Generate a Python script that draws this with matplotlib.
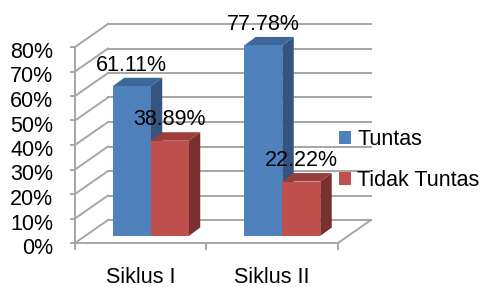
import matplotlib
matplotlib.use("Agg")
import matplotlib.pyplot as plt
from matplotlib.patches import Polygon, Patch
from matplotlib.transforms import ScaledTranslation
import numpy as np

categories = ["Siklus I", "Siklus II"]
series_names = ["Tuntas", "Tidak Tuntas"]
tuntas = [61.11, 77.78]
tidak_tuntas = [38.89, 22.22]
labels_tuntas = ["61.11%", "77.78%"]
labels_tidak = ["38.89%", "22.22%"]
yticks = [0, 10, 20, 30, 40, 50, 60, 70, 80]
yticklabels = ["0%", "10%", "20%", "30%", "40%", "50%", "60%", "70%", "80%"]

front_colors = ["#4F81BD", "#C0504D"]
side_colors = ["#34557F", "#7A302E"]
top_colors = ["#3E6699", "#9B3D3A"]
grid_color = "#A6A6A6"

plt.rcParams['font.family'] = ['Liberation Sans', 'DejaVu Sans']
FS = 15.5

W, H, DPI = 481, 287, 100
fig = plt.figure(figsize=(W / DPI, H / DPI), dpi=DPI)
# front plane: x 75..338 px, y(0)=243 px, y(80)=47 px
ax = fig.add_axes([75 / W, (H - 243) / H, (338 - 75) / W, (243 - 47) / H])
ax.set_xlim(0, 2)
ax.set_ylim(0, 80)
ax.patch.set_visible(False)

def shifted(dx, dy):
    return ax.transData + ScaledTranslation(dx / DPI, dy / DPI, fig.dpi_scale_trans)

back = shifted(33, 23)
bar_plane = shifted(10, 7)
DEPTH = (11.5, 8.5)
lw = 1.4

# back wall gridlines
for v in yticks:
    ax.plot([0, 2], [v, v], color=grid_color, lw=lw, transform=back, clip_on=False, zorder=1)
# left wall diagonals
for v in yticks:
    ax.plot([0, 0 + 33 / 131.5], [v, v + 23 / 2.45], color=grid_color, lw=lw,
            transform=ax.transData, clip_on=False, zorder=1)
# right floor edge
ax.plot([2, 2 + 33 / 131.5], [0, 0 + 23 / 2.45], color=grid_color, lw=lw,
        transform=ax.transData, clip_on=False, zorder=1)

# bars
bw = 0.289
group_centers = np.arange(len(categories)) + 0.5
ddx = DEPTH[0] / 131.5
ddy = DEPTH[1] / 2.45
for si, vals in enumerate([tuntas, tidak_tuntas]):
    for ci, v in enumerate(vals):
        x0 = group_centers[ci] - bw + si * bw
        x1 = x0 + bw
        z = 3 + si
        side = Polygon([[x1, 0], [x1 + ddx, ddy], [x1 + ddx, v + ddy], [x1, v]],
                       closed=True, facecolor=side_colors[si], edgecolor='none',
                       transform=bar_plane, clip_on=False, zorder=z)
        top = Polygon([[x0, v], [x1, v], [x1 + ddx, v + ddy], [x0 + ddx, v + ddy]],
                      closed=True, facecolor=top_colors[si], edgecolor='none',
                      transform=bar_plane, clip_on=False, zorder=z)
        front = Polygon([[x0, 0], [x1, 0], [x1, v], [x0, v]], closed=True,
                        facecolor=front_colors[si], edgecolor='none',
                        transform=bar_plane, clip_on=False, zorder=z)
        for p in (side, top, front):
            ax.add_patch(p)

# data labels
for si, (vals, labs) in enumerate([(tuntas, labels_tuntas), (tidak_tuntas, labels_tidak)]):
    for ci, (v, lab) in enumerate(zip(vals, labs)):
        xc = group_centers[ci] - bw / 2 + si * bw
        ax.annotate(lab, xy=(xc, v), xycoords=bar_plane, xytext=(0, 21),
                    textcoords='offset pixels', ha='center', va='center',
                    fontsize=FS, color='black', zorder=10, annotation_clip=False)

# axes styling
for s in ['top', 'right']:
    ax.spines[s].set_visible(False)
for s in ['left', 'bottom']:
    ax.spines[s].set_color(grid_color)
    ax.spines[s].set_linewidth(lw)
    ax.spines[s].set_zorder(2)
ax.set_yticks(yticks)
ax.set_yticklabels(yticklabels, fontsize=FS)
ax.tick_params(axis='y', length=5 * 0.72, width=lw, color=grid_color, pad=12)
for lab in ax.get_yticklabels():
    lab.set_transform(lab.get_transform() + ScaledTranslation(0, -3 / DPI, fig.dpi_scale_trans))
ax.set_xticks(group_centers)
ax.set_xticklabels(categories, fontsize=FS)
ax.set_xticks([0, 1, 2], minor=True)
ax.tick_params(axis='x', which='major', length=0, pad=17)
ax.tick_params(axis='x', which='minor', length=7 * 0.72, width=lw, color=grid_color)

handles = [Patch(facecolor=front_colors[0], edgecolor='none'),
           Patch(facecolor=front_colors[1], edgecolor='none')]
fig.legend(handles, series_names, loc='center left',
           bbox_to_anchor=(339 / W, 1 - 160 / H), frameon=False, fontsize=FS,
           handlelength=0.55, handleheight=0.55, handletextpad=0.3,
           labelspacing=0.95, borderpad=0, borderaxespad=0)

fig.savefig("out.png", dpi=DPI)
